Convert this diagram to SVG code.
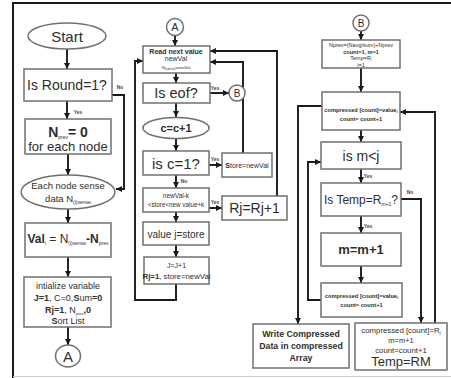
<svg xmlns="http://www.w3.org/2000/svg" width="451" height="378" viewBox="0 0 451 378">
<defs>
<marker id="ah" viewBox="0 0 10 10" refX="10" refY="5" markerWidth="6" markerHeight="6" markerUnits="userSpaceOnUse" orient="auto"><path d="M0,0 L10,5 L0,10 z" fill="#1a1a1a"/></marker>
</defs>
<style>
.box{fill:#fff;stroke:#707070;stroke-width:1.5}
.ln{fill:none;stroke:#1a1a1a;stroke-width:1.9}
.ar{marker-end:url(#ah)}
text{font-family:"Liberation Sans",Arial,sans-serif;fill:#2e2e2e;text-anchor:middle}
.lbl{font-size:5px;font-weight:bold;fill:#444}
.b{font-weight:bold}
</style>
<rect width="451" height="378" fill="#fff"/>
<path d="M13,378 V3 H451" stroke="#1a1a1a" stroke-width="2" fill="none"/>
<line x1="13" y1="376.5" x2="451" y2="376.5" stroke="#d0d0d0"/>

<g id="connectors">
<path class="ln ar" d="M67,49 V69"/>
<path class="ln ar" d="M67,101 V119"/>
<path class="ln ar" d="M112,95 H124 V189 H116"/>
<path class="ln ar" d="M68,154 V175"/>
<path class="ln ar" d="M68,209 V223"/>
<path class="ln ar" d="M68,257 V277"/>
<path class="ln ar" d="M68,327 V345"/>

<path class="ln ar" d="M175,36 V46"/>
<path class="ln ar" d="M176,73 V83"/>
<path class="ln ar" d="M210,93 H229"/>
<path class="ln ar" d="M176,103 V117"/>
<path class="ln ar" d="M176,139 V151"/>
<path class="ln ar" d="M209,165 H222"/>
<path class="ln ar" d="M176,175 V188"/>
<path class="ln ar" d="M209,208 H222"/>
<path class="ln ar" d="M176,212 V222"/>
<path class="ln ar" d="M176,245 V257"/>
<path class="ln ar" d="M176,284 V300 H135 V61 H143"/>
<path class="ln ar" d="M243,153 V62 H210"/>
<path class="ln ar" d="M277,196 V51 H210"/>

<path class="ln ar" d="M361,31 V40"/>
<path class="ln ar" d="M361,68 V92"/>
<path class="ln ar" d="M361,130 V142"/>
<path class="ln ar" d="M361,169 V183"/>
<path class="ln ar" d="M401,199 H421 V323"/>
<path class="ln ar" d="M361,216 V233"/>
<path class="ln ar" d="M361,266 V283"/>
<path class="ln ar" d="M321,300 H308 V162 H321"/>
<path class="ln ar" d="M322,106 H298 V324"/>
<path class="ln ar" d="M435,323 V112 H400"/>

<text class="lbl" x="78" y="114">Yes</text>
<text class="lbl" x="120" y="89">No</text>
<text class="lbl" x="215" y="90">Yes</text>
<text class="lbl" x="215" y="161">Yes</text>
<text class="lbl" x="184" y="183">No</text>
<text class="lbl" x="215" y="204">Yes</text>
<text class="lbl" x="368" y="178">Yes</text>
<text class="lbl" x="410" y="194">No</text>
<text class="lbl" x="368" y="228">Yes</text>
</g>

<g id="start"><ellipse class="box" cx="67" cy="36" rx="39" ry="13"/><text x="67" y="41.5" font-size="15">Start</text></g>
<g id="round"><rect class="box" x="24" y="69" width="88" height="32"/><text x="67" y="90" font-size="14">Is Round=1?</text></g>
<g id="nprev0"><rect class="box" x="25" y="119" width="86" height="35"/>
<text x="68" y="137" font-size="14" class="b">N<tspan font-size="5" font-weight="normal" dy="2">prev</tspan><tspan dy="-2">= 0</tspan></text>
<text x="68" y="151" font-size="13">for each node</text></g>
<g id="sense"><ellipse class="box" cx="68" cy="192" rx="47" ry="17"/>
<text x="68" y="189" font-size="9.5">Each node sense</text>
<text x="68" y="202" font-size="9.5">data N<tspan font-size="5" dy="2">(i)sense</tspan></text></g>
<g id="val"><rect class="box" x="25" y="223" width="86" height="34"/>
<text x="68" y="243" font-size="12"><tspan class="b">Val</tspan><tspan font-size="5" dy="2">i</tspan><tspan dy="-2"> = N</tspan><tspan font-size="5" dy="2">(i)sense</tspan><tspan dy="-2" class="b">-N</tspan><tspan font-size="5" dy="2">prev</tspan></text></g>
<g id="init"><rect class="box" x="24" y="277" width="87" height="50"/>
<text x="68" y="289" font-size="9">intialize variable</text>
<text x="68" y="301" font-size="9"><tspan class="b">J=1</tspan>, C=0,<tspan class="b">S</tspan>um<tspan class="b">=0</tspan></text>
<text x="68" y="313" font-size="9"><tspan class="b">Rj=1</tspan>, N<tspan font-size="4" dy="2">prev</tspan><tspan dy="-2" class="b">,0</tspan></text>
<text x="68" y="324" font-size="9"><tspan class="b">S</tspan>ort List</text></g>
<g id="a1"><ellipse class="box" cx="68" cy="356" rx="12.5" ry="11"/><text x="68" y="361.5" font-size="15">A</text></g>

<g id="a2"><circle class="box" cx="175" cy="27" r="8.5"/><text x="175" y="31" font-size="11">A</text></g>
<g id="read"><rect class="box" x="143" y="46" width="67" height="27"/>
<text x="176" y="54" font-size="7" class="b">Read next value</text>
<text x="176" y="61" font-size="7">newVal</text>
<text x="176" y="68.5" font-size="4">N<tspan font-size="3" dy="1">i(sense)</tspan><tspan dy="-1">=newVal</tspan></text></g>
<g id="eof"><rect class="box" x="143" y="83" width="67" height="20"/><text x="176" y="98" font-size="14.5">Is eof?</text></g>
<g id="b1"><circle class="box" cx="237" cy="93" r="8"/><text x="237" y="97" font-size="10">B</text></g>
<g id="cinc"><ellipse class="box" cx="176" cy="128" rx="33" ry="10.5"/><text x="176" y="132" font-size="11" class="b">c=c+1</text></g>
<g id="isc1"><rect class="box" x="143" y="151" width="66" height="24"/><text x="176" y="168.5" font-size="15">is c=1?</text></g>
<g id="store"><rect class="box" x="222" y="153" width="50" height="24"/><text x="247" y="167.5" font-size="7"><tspan class="b">S</tspan>tore=newVal</text></g>
<g id="range"><rect class="box" x="143" y="188" width="66" height="24"/>
<text x="176" y="198" font-size="6.5">newVal-k</text>
<text x="176" y="207" font-size="6.3">&lt;store&lt;new value+k</text></g>
<g id="rj"><rect class="box" x="222" y="196" width="65" height="24"/><text x="254.5" y="213" font-size="14">Rj=Rj+1</text></g>
<g id="valuej"><rect class="box" x="143" y="222" width="66" height="23"/><text x="176" y="237.5" font-size="10">value j=store</text></g>
<g id="jinc"><rect class="box" x="144" y="257" width="65" height="27"/>
<text x="176.5" y="267.5" font-size="7">J=J+1</text>
<text x="176.5" y="279" font-size="7.8"><tspan class="b">Rj=1</tspan>, store=newVal</text></g>

<g id="b2"><circle class="box" cx="361" cy="23" r="8"/><text x="361" y="27" font-size="10">B</text></g>
<g id="nprev"><rect class="box" x="322" y="40" width="78" height="28"/>
<text x="361" y="46.5" font-size="5.5">Nprev=(Navg/sum)+Nprev</text>
<text x="361" y="53.5" font-size="5.5" class="b">count=1, m=1</text>
<text x="361" y="60" font-size="5.5">Temp=R<tspan font-size="3.5" dy="1">i</tspan></text>
<text x="361" y="66.5" font-size="5.5">i=1</text></g>
<g id="comp1"><rect class="box" x="322" y="92" width="78" height="38"/>
<text x="361" y="112" font-size="5.7" class="b">compressed [count]=value<tspan font-size="4" dy="1">i</tspan></text>
<text x="361" y="121" font-size="5.7" class="b">count= count+1</text></g>
<g id="mltj"><rect class="box" x="321" y="142" width="80" height="27"/><text x="361" y="160.5" font-size="14">is m&lt;j</text></g>
<g id="temp"><rect class="box" x="321" y="183" width="80" height="33"/><text x="361" y="204" font-size="12" fill="#555">Is Temp=R<tspan font-size="5" dy="2">m+1</tspan><tspan dy="-2">?</tspan></text></g>
<g id="minc"><rect class="box" x="321" y="233" width="80" height="33"/><text x="361" y="254" font-size="13" class="b">m=m+1</text></g>
<g id="comp2"><rect class="box" x="321" y="283" width="81" height="34"/>
<text x="361.5" y="297.5" font-size="5.7" class="b">compressed [count]=value<tspan font-size="4" dy="1">i</tspan></text>
<text x="361.5" y="306.5" font-size="5.7" class="b">count= count+1</text></g>
<g id="write"><rect class="box" x="253" y="324" width="96" height="44"/>
<text x="301" y="337" font-size="8.8" class="b">Write Compressed</text>
<text x="301" y="349" font-size="8.8" class="b">Data in compressed</text>
<text x="301" y="361" font-size="8.8" class="b">Array</text></g>
<g id="compr"><rect class="box" x="355" y="323" width="92" height="47"/>
<text x="401" y="333" font-size="7.8">compressed [count]=R<tspan font-size="5" dy="1.5">i</tspan></text>
<text x="401" y="343" font-size="7.5">m=m+1</text>
<text x="401" y="352.5" font-size="7.8">count=count+1</text>
<text x="401" y="366" font-size="13">Temp=RM</text></g>
</svg>
